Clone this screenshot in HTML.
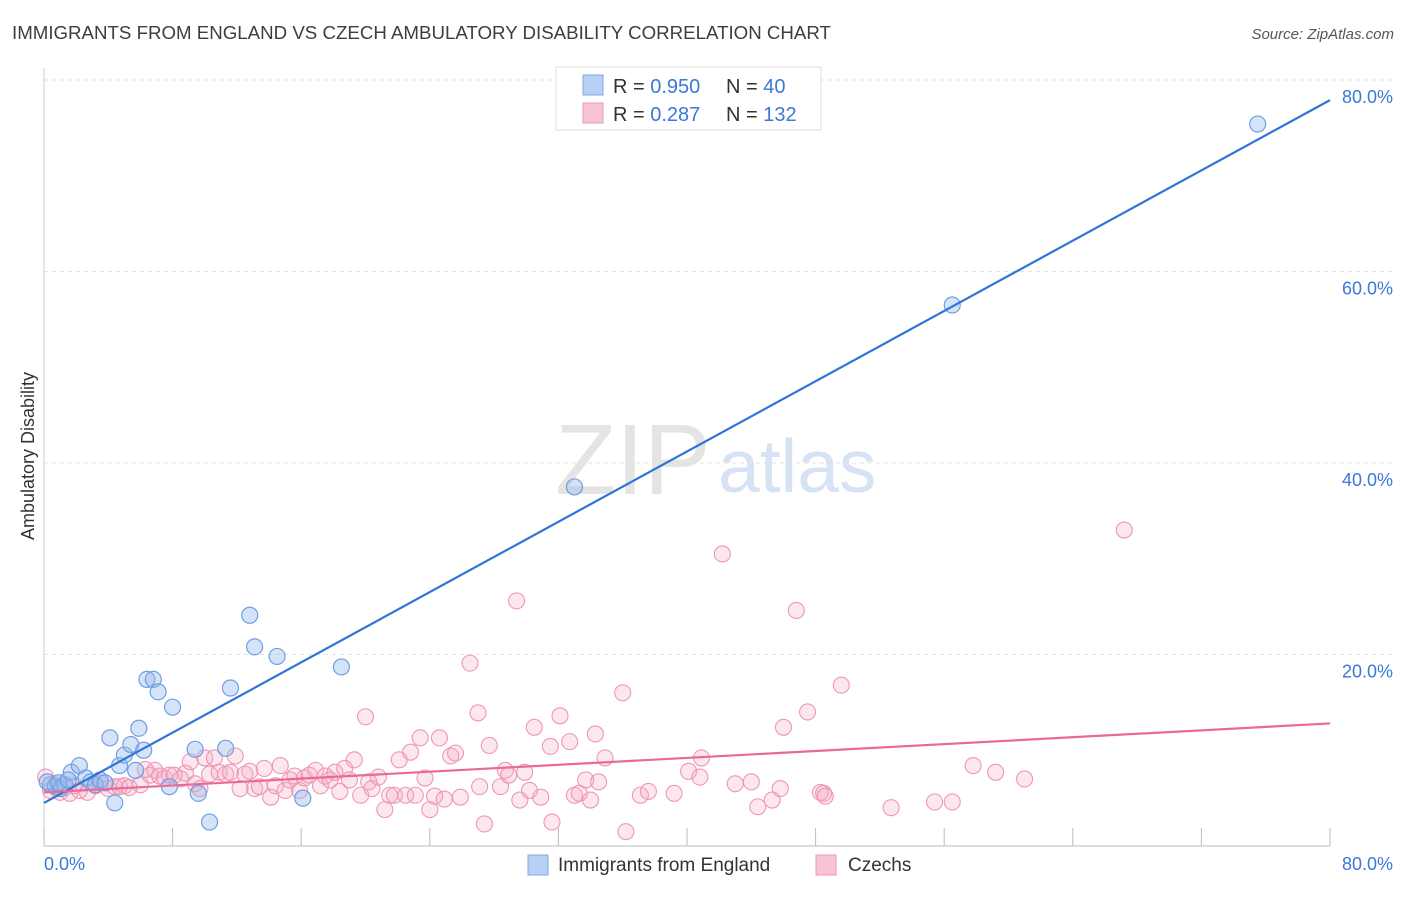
<!DOCTYPE html>
<html><head><meta charset="utf-8"><style>
body{margin:0;background:#fff;font-family:"Liberation Sans",sans-serif}
svg text{font-family:"Liberation Sans",sans-serif}
</style></head><body>
<svg id="chart" width="1406" height="892" xmlns="http://www.w3.org/2000/svg">
<text x="12" y="39" font-size="18.7" fill="#3d3d3d">IMMIGRANTS FROM ENGLAND VS CZECH AMBULATORY DISABILITY CORRELATION CHART</text>
<text x="1394" y="39" font-size="15" fill="#555" text-anchor="end" font-style="italic">Source: ZipAtlas.com</text>
<text x="555" y="494" font-size="100" fill="#e4e4e4" font-family="Liberation Serif">ZIP</text>
<text x="718" y="492" font-size="75" fill="#d6e3f5">atlas</text>
<g id="grid"></g>
<g id="axes"></g>
<g id="marks"></g>
<text x="34" y="456" font-size="18" fill="#333" text-anchor="middle" transform="rotate(-90 34 456)">Ambulatory Disability</text>
<g>
<rect x="556" y="67" width="265" height="63" fill="#fff" stroke="#ddd"/>
<rect x="583" y="75" width="20" height="20" fill="#b7d0f3" stroke="#7fa8e6"/>
<rect x="583" y="103" width="20" height="20" fill="#f8c3d4" stroke="#ee9ab6"/>
<text x="613" y="93" font-size="20" fill="#333">R = <tspan fill="#3b78d8">0.950</tspan></text>
<text x="726" y="93" font-size="20" fill="#333">N = <tspan fill="#3b78d8"> 40</tspan></text>
<text x="613" y="121" font-size="20" fill="#333">R = <tspan fill="#3b78d8"> 0.287</tspan></text>
<text x="726" y="121" font-size="20" fill="#333">N = <tspan fill="#3b78d8">132</tspan></text>
</g>
<g>
<rect x="528" y="855" width="20" height="20" fill="#b7d0f3" stroke="#7fa8e6"/>
<text x="558" y="871" font-size="19" fill="#333">Immigrants from England</text>
<rect x="816" y="855" width="20" height="20" fill="#f8c3d4" stroke="#ee9ab6"/>
<text x="848" y="871" font-size="19" fill="#333">Czechs</text>
</g>
</svg>
<script>
const yTicks=[20,40,60,80];
const yTickLabels=["20.0%","40.0%","60.0%","80.0%"];
const xTicks=[0,8,16,24,32,40,48,56,64,72,80];
const englandX=[0.4,0.7,1.0,1.3,1.7,2.2,2.6,2.9,3.2,3.5,3.8,4.1,4.4,4.7,5.0,5.4,5.7,5.9,6.2,6.4,6.8,7.1,8.0,7.8,9.4,9.6,10.3,11.3,11.6,12.8,13.1,14.5,16.1,18.5,33.0,56.5,75.5,0.2,0.9,1.5];
const englandY=[6.4,6.2,6.0,6.4,7.7,8.4,7.1,6.7,6.4,6.9,6.6,11.3,4.5,8.4,9.5,10.6,7.9,12.3,10.0,17.4,17.4,16.1,14.5,6.2,10.1,5.5,2.5,10.2,16.5,24.1,20.8,19.8,5.0,18.7,37.5,56.5,75.4,6.7,6.6,6.9];
const czechX=[0.1,0.4,0.7,1.0,1.3,1.6,1.9,2.2,2.7,3.2,3.5,4.0,4.4,4.7,5.0,5.3,6.0,6.3,6.6,6.9,7.2,7.5,7.8,8.1,8.5,8.8,9.1,9.4,9.7,10.0,10.3,10.6,10.9,11.3,11.6,11.9,12.2,12.5,12.8,13.1,13.4,13.7,14.1,14.4,14.7,15.0,15.3,15.6,15.9,16.2,16.5,16.9,17.2,17.5,17.8,18.1,18.4,18.7,19.0,19.3,19.7,20.0,20.2,20.4,20.8,21.2,21.5,21.8,22.1,22.5,22.8,23.1,23.4,23.7,24.0,24.3,24.6,24.9,25.3,25.6,25.9,26.5,27.0,27.1,27.4,27.7,28.4,28.7,28.9,29.4,29.6,29.9,30.2,30.5,30.9,31.5,31.6,32.1,32.7,33.0,33.3,33.7,34.0,34.3,34.5,34.9,36.0,36.2,37.1,37.6,39.2,40.1,40.8,40.9,42.2,43.0,44.0,44.4,45.3,45.8,46.0,46.8,47.5,48.3,48.5,48.6,49.6,52.7,55.4,56.5,57.8,59.2,61.0,67.2];
const czechY=[7.2,5.8,6.4,5.6,6.1,5.5,6.3,5.8,5.6,6.3,6.6,6.0,6.2,6.2,6.3,6.1,6.4,8.0,7.4,7.9,7.3,7.1,7.4,7.4,7.0,7.6,8.8,6.5,6.0,9.2,7.5,9.2,7.7,7.5,7.7,9.4,6.0,7.5,7.8,6.0,6.2,8.1,5.1,6.3,8.4,5.8,6.9,7.3,5.8,7.1,7.4,7.9,6.3,7.3,6.9,7.7,5.7,8.1,6.9,9.0,5.3,13.5,6.7,6.0,7.2,3.8,5.3,5.3,9.0,5.3,9.8,5.3,11.3,7.1,3.8,5.2,11.3,4.9,9.4,9.7,5.1,19.1,13.9,6.2,2.3,10.5,6.2,7.9,7.4,25.6,4.8,7.7,5.8,12.4,5.1,10.4,2.5,13.6,10.9,5.3,5.5,6.9,4.8,11.7,6.7,9.2,16.0,1.5,5.3,5.7,5.5,7.8,7.2,9.2,30.5,6.5,6.7,4.1,4.8,6.0,12.4,24.6,14.0,5.6,5.5,5.2,16.8,4.0,4.6,4.6,8.4,7.7,7.0,33.0];
const englandTrend=[4.5,77.9];
const czechTrend=[5.6,12.8];
const NS="http://www.w3.org/2000/svg";
const X0=44,X1=1330,Y0=846,YT=80;
function xs(v){return X0+(v/80)*(X1-X0);}
function ys(v){return Y0-(v/80)*(Y0-YT);}
function mk(tag,attrs,parent){const e=document.createElementNS(NS,tag);for(const k in attrs)e.setAttribute(k,attrs[k]);parent.appendChild(e);return e;}
const grid=document.getElementById('grid'),axes=document.getElementById('axes'),marks=document.getElementById('marks');
yTicks.forEach((t,i)=>{
 const l=mk('line',{x1:X0,x2:1394,y1:ys(t),y2:ys(t),stroke:'#e2e2e2','stroke-dasharray':'4,4'},grid);
 
 
 const tx=mk('text',{x:1393,y:ys(t)+23,'font-size':18,fill:'#3b78d8','text-anchor':'end'},axes);
 tx.textContent=yTickLabels[i];
 
 
});
const ax=mk('line',{x1:X0,x2:X1,y1:Y0,y2:Y0,stroke:'#bbb'},axes);


const ay=mk('line',{x1:X0,x2:X0,y1:68,y2:Y0,stroke:'#ccc'},axes);


xTicks.forEach(t=>{
 const l=mk('line',{x1:xs(t),x2:xs(t),y1:Y0,y2:Y0-18,stroke:'#bbb'},axes);
 
 
});
const xl0=mk('text',{x:44,y:870,'font-size':18,fill:'#3b78d8'},axes);xl0.textContent='0.0%';


const xl1=mk('text',{x:1393,y:870,'font-size':18,fill:'#3b78d8','text-anchor':'end'},axes);xl1.textContent='80.0%';


czechX.forEach((x,i)=>{
 const c=mk('circle',{cx:xs(x),cy:ys(czechY[i]),r:8,fill:'rgba(245,170,196,0.28)',stroke:'#ef96b5','stroke-width':1.1},marks);
 
 
});
englandX.forEach((x,i)=>{
 const c=mk('circle',{cx:xs(x),cy:ys(englandY[i]),r:8,fill:'rgba(150,185,238,0.4)',stroke:'#6f9fe0','stroke-width':1.2},marks);
 
 
});
const tb=mk('line',{x1:xs(0),x2:xs(80),y1:ys(englandTrend[0]),y2:ys(englandTrend[1]),stroke:'#2f74d8','stroke-width':2.2},marks);


const tp=mk('line',{x1:xs(0),x2:xs(80),y1:ys(czechTrend[0]),y2:ys(czechTrend[1]),stroke:'#e8699a','stroke-width':2.2},marks);


</script>
</body></html>
